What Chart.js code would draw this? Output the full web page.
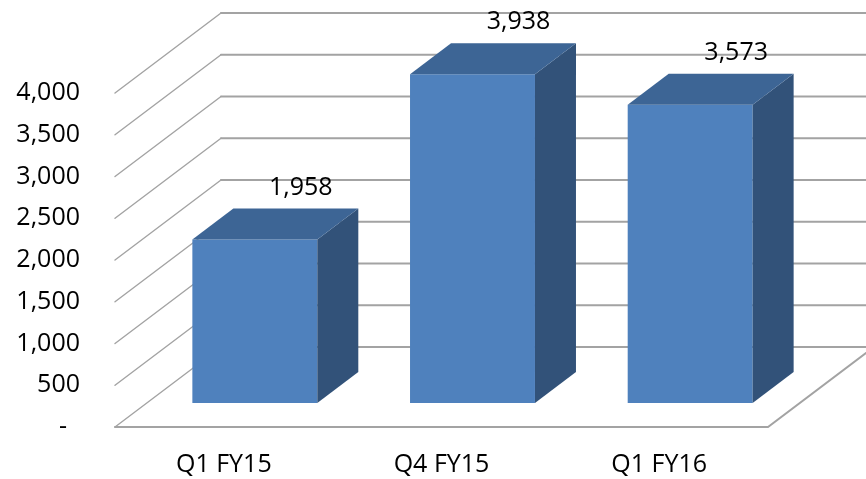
<!DOCTYPE html>
<html lang="en">
<head>
  <meta charset="utf-8" />
  <title>Quarterly totals</title>
  <script src="https://cdn.jsdelivr.net/npm/chart.js@4.4.1/dist/chart.umd.min.js"></script>
  <style>
    html, body { margin: 0; padding: 0; background: #fff; }
    #wrap { width: 866px; height: 479px; }
  </style>
</head>
<body>
  <div id="wrap"><canvas id="chart" width="866" height="479"></canvas></div>
  <script>
    const categories = ['Q1 FY15', 'Q4 FY15', 'Q1 FY16'];
    const values = [1958, 3938, 3573];
    const yTicks = [0, 500, 1000, 1500, 2000, 2500, 3000, 3500, 4000];

    // fake-3D geometry (pixels): floor depth, where the bar fronts sit, bar thickness
    const FLOOR = { dx: 106, dy: 80 };
    const BAR_PLANE = { dx: 31, dy: 24 };
    const BAR_DEPTH = { dx: 41, dy: 31 };

    const FRONT = '#4f81bd';
    const TOP = '#3d6595';
    const SIDE = '#325279';
    const GRID = '#a3a3a3';
    const FONT = '"Open Sans", "Liberation Sans", sans-serif';
    const FONT_SIZE = 25;

    // accounting style: zero shows as a dash, padded off the right edge
    const fmt = (v) => (v === 0 ? '-  ' : Number(v).toLocaleString('en-US'));

    function line(ctx, pts, width) {
      ctx.beginPath();
      ctx.moveTo(pts[0][0], pts[0][1]);
      for (let i = 1; i < pts.length; i++) ctx.lineTo(pts[i][0], pts[i][1]);
      ctx.lineWidth = width;
      ctx.strokeStyle = GRID;
      ctx.stroke();
    }

    function poly(ctx, pts, fill) {
      ctx.beginPath();
      ctx.moveTo(pts[0][0], pts[0][1]);
      for (let i = 1; i < pts.length; i++) ctx.lineTo(pts[i][0], pts[i][1]);
      ctx.closePath();
      ctx.fillStyle = fill;
      ctx.fill();
    }

    const box3d = {
      id: 'box3d',
      beforeDatasetsDraw(chart) {
        const { ctx, chartArea: a, scales } = chart;
        const W = chart.width;
        ctx.save();
        ctx.lineCap = 'round';
        // back wall + side wall gridlines
        yTicks.forEach((v) => {
          const yf = scales.y.getPixelForValue(v);
          const xb = a.left + FLOOR.dx, yb = yf - FLOOR.dy;
          line(ctx, [[a.left, yf], [xb, yb]], 1.4);
          line(ctx, [[xb, yb], [W + 2, yb]], 2);
        });
        // floor outline
        const y0 = scales.y.getPixelForValue(0);
        line(ctx, [[a.left, y0], [a.right, y0], [a.right + FLOOR.dx, y0 - FLOOR.dy]], 2);
        ctx.restore();

        // bars sit partway back on the floor
        ctx.save();
        ctx.translate(BAR_PLANE.dx, -BAR_PLANE.dy);
      },
      afterDatasetsDraw(chart) {
        const { ctx } = chart;
        const bars = chart.getDatasetMeta(0).data;
        bars.forEach((b) => {
          const l = b.x - b.width / 2, r = b.x + b.width / 2;
          const t = b.y, btm = b.base;
          const dx = BAR_DEPTH.dx, dy = BAR_DEPTH.dy;
          poly(ctx, [[r, t], [r + dx, t - dy], [r + dx, btm - dy], [r, btm]], SIDE);
          poly(ctx, [[l, t], [l + dx, t - dy], [r + dx, t - dy], [r, t]], TOP);
        });
        ctx.restore();

        // value labels above each box
        ctx.save();
        ctx.font = FONT_SIZE + 'px ' + FONT;
        ctx.fillStyle = '#000';
        ctx.textAlign = 'center';
        ctx.textBaseline = 'middle';
        bars.forEach((b, i) => {
          const x = b.x + BAR_PLANE.dx + 46;
          const y = b.y - BAR_PLANE.dy - 52;
          ctx.fillText(fmt(values[i]), x, y);
        });
        ctx.restore();
      },
    };

    new Chart(document.getElementById('chart'), {
      type: 'bar',
      data: {
        labels: categories,
        datasets: [{
          data: values,
          backgroundColor: FRONT,
          borderWidth: 0,
          categoryPercentage: 1,
          barPercentage: 0.574,
          clip: false,
        }],
      },
      options: {
        responsive: false,
        animation: false,
        layout: { padding: { top: 93, right: 98, bottom: 0, left: 0 } },
        plugins: { legend: { display: false }, tooltip: { enabled: false } },
        scales: {
          x: {
            grid: { display: false, drawTicks: false },
            border: { display: false },
            ticks: { color: '#000', font: { family: FONT, size: FONT_SIZE }, padding: 23, maxRotation: 0 },
            afterFit: (s) => { s.height = 52; },
          },
          y: {
            min: 0,
            max: 4000,
            grid: { display: false, drawTicks: false },
            border: { display: false },
            ticks: {
              stepSize: 500,
              color: '#000',
              padding: 35,
              font: { family: FONT, size: FONT_SIZE },
              callback: (v) => fmt(v),
            },
            afterFit: (s) => { s.width = 115; },
          },
        },
      },
      plugins: [box3d],
    });
  </script>
</body>
</html>
